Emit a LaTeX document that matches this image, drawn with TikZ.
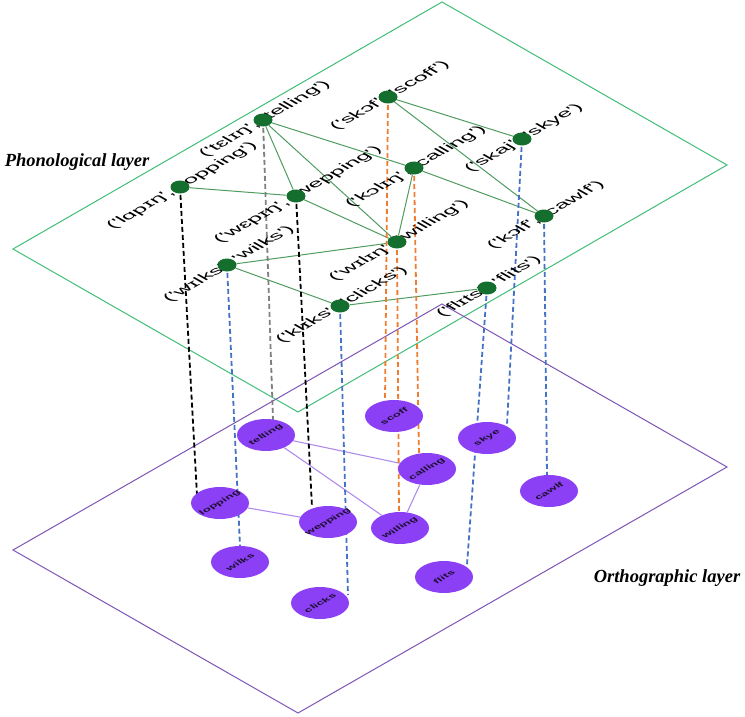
\documentclass[tikz,border=0pt]{standalone}
\usepackage{fontspec}
\newfontfamily\lab{Liberation Sans}[Ligatures=TeXOff]
\newfontfamily\laytitle{Liberation Serif}
\usetikzlibrary{shapes.geometric}
\definecolor{planeGreen}{RGB}{64,190,120}
\definecolor{planePurple}{RGB}{125,85,180}
\definecolor{phonEdge}{RGB}{80,155,95}
\definecolor{phonNode}{RGB}{20,110,45}
\definecolor{orthoEdge}{RGB}{175,140,235}
\definecolor{orthoNode}{RGB}{140,64,245}
\definecolor{orthoText}{RGB}{30,15,50}
\definecolor{dashGray}{RGB}{128,128,128}
\definecolor{dashOrange}{RGB}{237,125,49}
\definecolor{dashBlue}{RGB}{68,114,196}
\pgfdeclarelayer{bg}
\pgfdeclarelayer{mid}
\pgfsetlayers{bg,mid,main}
\tikzset{
  planeG/.style={draw=planeGreen, line width=1pt},
  planeP/.style={draw=planePurple, line width=1pt},
  pedge/.style={draw=phonEdge, line width=1pt},
  oedge/.style={draw=orthoEdge, line width=1.1pt},
  pnode/.style={ellipse, fill=phonNode, minimum width=19pt, minimum height=13pt, inner sep=0pt},
  onode/.style={ellipse, fill=orthoNode, minimum width=58pt, minimum height=32pt, inner sep=0pt},
  iso/.style={cm={1.44,0.829,-0.956,0.547,(0,0)}},
  isoo/.style={cm={1.30,0.75,-0.75,0.60,(0,0)}},
  plabel/.style={iso, font=\lab\fontsize{13.5}{14}\selectfont, inner sep=0pt, text=black},
  olabel/.style={isoo, font=\lab\bfseries\fontsize{8.2}{9}\selectfont, inner sep=0pt, text=orthoText},
  layerlab/.style={font=\laytitle\bfseries\itshape\fontsize{18.5}{20}\selectfont, inner sep=0pt},
  vline/.style={dash pattern=on 5pt off 3pt, line width=1.8pt},
  vblack/.style={vline, draw=black},
  vgray/.style={vline, draw=dashGray},
  vorange/.style={vline, draw=dashOrange},
  vblue/.style={vline, draw=dashBlue}
}
\begin{document}
\begin{tikzpicture}[x=1pt,y=-1pt]
\useasboundingbox (0,0) rectangle (745,717);

% ---------- orthographic layer nodes ----------
\node[onode] (o-scoff)   at (394,416) {};
\node[onode] (o-telling) at (266,435) {};
\node[onode] (o-calling) at (427,469) {};
\node[onode] (o-skye)    at (487,438) {};
\node[onode] (o-cawlf)   at (549,491) {};
\node[onode] (o-lopping) at (220,503) {};
\node[onode] (o-wepping) at (328,522) {};
\node[onode] (o-willing) at (400,528) {};
\node[onode] (o-wilks)   at (240,562) {};
\node[onode] (o-clicks)  at (320,603) {};
\node[onode] (o-flits)   at (444,577) {};

\node[olabel] (ot-scoff)   at (o-scoff)   {scoff};
\node[olabel] (ot-telling) at (o-telling) {telling};
\node[olabel] (ot-calling) at (o-calling) {calling};
\node[olabel] (ot-skye)    at (o-skye)    {skye};
\node[olabel] (ot-cawlf)   at (o-cawlf)   {cawlf};
\node[olabel] (ot-lopping) at (o-lopping) {lopping};
\node[olabel] (ot-wepping) at (o-wepping) {wepping};
\node[olabel] (ot-willing) at (o-willing) {willing};
\node[olabel] (ot-wilks)   at (o-wilks)   {wilks};
\node[olabel] (ot-clicks)  at (o-clicks)  {clicks};
\node[olabel] (ot-flits)   at (o-flits)   {flits};

% ---------- phonological labels ----------
\node[plabel] (pt-telling) at (265,119) {('tɛlɪŋ', 'telling')};
\node[plabel] (pt-lopping) at (182,186) {('lɑpɪŋ', 'lopping')};
\node[plabel] (pt-wepping) at (298,195) {('wɛpɪŋ', 'wepping')};
\node[plabel] (pt-scoff)   at (390,96)  {('skɔf', 'scoff')};
\node[plabel] (pt-calling) at (416,167) {('kɔlɪŋ', 'calling')};
\node[plabel] (pt-skye)    at (524,138) {('skaj', 'skye')};
\node[plabel] (pt-cawlf)   at (546,215) {('kɔlf', 'cawlf')};
\node[plabel] (pt-willing) at (399,241) {('wɪlɪŋ', 'willing')};
\node[plabel] (pt-wilks)   at (229,264) {('wɪlks', 'wilks')};
\node[plabel] (pt-clicks)  at (342,305) {('klɪks', 'clicks')};
\node[plabel] (pt-flits)   at (489,287) {('flɪts', 'flits')};

% ---------- phonological nodes ----------
\node[pnode] (p-telling) at (263,120) {};
\node[pnode] (p-lopping) at (180,187) {};
\node[pnode] (p-wepping) at (296,196) {};
\node[pnode] (p-scoff)   at (388,97)  {};
\node[pnode] (p-calling) at (414,168) {};
\node[pnode] (p-skye)    at (522,139) {};
\node[pnode] (p-cawlf)   at (544,216) {};
\node[pnode] (p-willing) at (397,242) {};
\node[pnode] (p-wilks)   at (227,265) {};
\node[pnode] (p-clicks)  at (340,306) {};
\node[pnode] (p-flits)   at (487,288) {};

% ---------- layer labels ----------
\node[layerlab] (phonlab)  at (77,162)  {Phonological layer};
\node[layerlab] (ortholab) at (667,578) {Orthographic layer};

% ---------- ends of the inter-layer links ----------
\coordinate (e-lopping) at (197,495);
\coordinate (e-telling) at (273,420);
\coordinate (e-wepping) at (312,507);
\coordinate (e-wilks)   at (240,546);
\coordinate (e-clicks)  at (348,595);
\coordinate (e-scoff)   at (385,402);
\coordinate (e-willing) at (399,513);
\coordinate (e-calling) at (419,455);
\coordinate (e-skye)    at (507,425);
\coordinate (e-flits)   at (467,565);
\coordinate (e-cawlf)   at (547,475);

\begin{pgfonlayer}{bg}
  % planes
  \draw[planeG] (13,249) -- (442,2) -- (727,165) -- (298,412) -- cycle;
  \draw[planeP] (13,550) -- (442,304) -- (727,467) -- (298,713) -- cycle;
  % phonological edges
  \draw[pedge] (p-telling) -- (p-wepping);
  \draw[pedge] (p-telling) -- (p-calling);
  \draw[pedge] (p-telling) -- (p-willing);
  \draw[pedge] (p-lopping) -- (p-wepping);
  \draw[pedge] (p-wepping) -- (p-willing);
  \draw[pedge] (p-scoff) -- (p-skye);
  \draw[pedge] (p-scoff) -- (p-cawlf);
  \draw[pedge] (p-calling) -- (p-cawlf);
  \draw[pedge] (p-calling) -- (p-willing);
  \draw[pedge] (p-willing) -- (p-wilks);
  \draw[pedge] (p-wilks) -- (p-clicks);
  \draw[pedge] (p-clicks) -- (p-flits);
  % orthographic edges
  \draw[oedge] (o-telling) -- (o-calling);
  \draw[oedge] (o-telling) -- (o-willing);
  \draw[oedge] (o-lopping) -- (o-wepping);
  \draw[oedge] (o-calling) -- (o-willing);
\end{pgfonlayer}

\begin{pgfonlayer}{mid}
  \draw[vblack]  (p-lopping.center) -- (e-lopping);
  \draw[vgray]   (p-telling.center) -- (e-telling);
  \draw[vblack]  (p-wepping.center) -- (e-wepping);
  \draw[vblue]   (p-wilks.center)   -- (e-wilks);
  \draw[vblue]   (p-clicks.center)  -- (e-clicks);
  \draw[vorange] (p-scoff.center)   -- (e-scoff);
  \draw[vorange] (p-willing.center) -- (e-willing);
  \draw[vorange] (p-calling.center) -- (e-calling);
  \draw[vblue]   (p-skye.center)    -- (e-skye);
  \draw[vblue]   (p-flits.center)   -- (e-flits);
  \draw[vblue]   (p-cawlf.center)   -- (e-cawlf);
\end{pgfonlayer}
\end{tikzpicture}
\end{document}
